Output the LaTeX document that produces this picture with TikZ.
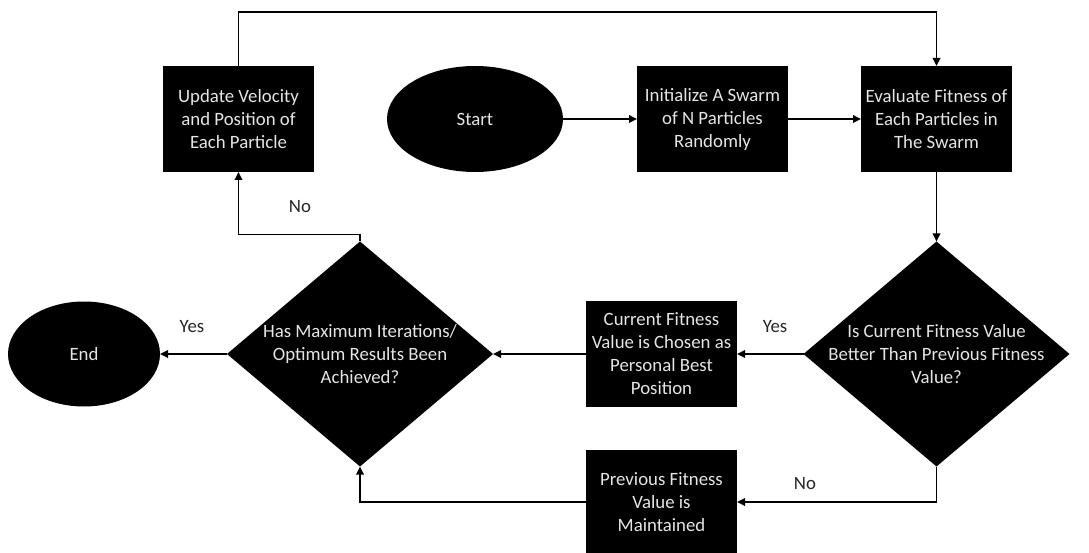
\documentclass[tikz,border=0pt]{standalone}
\usepackage{fontspec}
\setmainfont{Carlito}
\usetikzlibrary{shapes.geometric,arrows.meta}
\definecolor{boxtext}{gray}{0.9}
\newcommand{\boxfont}{\fontsize{18.8}{23}\selectfont}
\begin{document}
\begin{tikzpicture}[x=1pt,y=-1pt,
  proc/.style={rectangle, fill=black, text=boxtext, minimum width=151pt,
    minimum height=106pt, inner sep=0pt, outer sep=0pt, align=center, font=\boxfont},
  term/.style={ellipse, fill=black, text=boxtext, inner sep=0pt, outer sep=0pt, font=\boxfont},
  decision/.style={diamond, fill=black, minimum width=266pt, minimum height=225pt,
    inner sep=0pt, outer sep=0pt},
  dtext/.style={text=boxtext, align=center, font=\boxfont, inner sep=0pt},
  flow/.style={line width=1.7pt, -{Triangle[length=8pt,width=7.5pt]}},
  answer/.style={font=\boxfont, text=black!85}]
\useasboundingbox (0,0) rectangle (1089,553);

% process boxes and terminals
\node[term, minimum width=176pt, minimum height=106pt] (start) at (475,119) {Start};
\node[proc] (init) at (712.5,119) {Initialize A Swarm\\of N Particles\\Randomly};
\node[proc] (eval) at (936.5,119) {Evaluate Fitness of\\Each Particles in\\The Swarm};
\node[proc] (update) at (238.5,119) {Update Velocity\\and Position of\\Each Particle};
\node[decision, label={[dtext]center:Is Current Fitness Value\\Better Than Previous Fitness\\Value?}] (better) at (936.5,354) {};
\node[proc] (current) at (661.5,354) {Current Fitness\\Value is Chosen as\\Personal Best\\Position};
\node[proc, minimum height=104pt] (previous) at (661.5,502) {Previous Fitness\\Value is\\Maintained};
\node[decision, label={[dtext]center:Has Maximum Iterations/\\Optimum Results Been\\Achieved?}] (done) at (360,354) {};
\node[term, minimum width=152pt, minimum height=105pt] (end) at (84,354) {End};

% answers on the branches
\node[answer] (no1) at (300,207) {No};
\node[answer] (yes1) at (192,327) {Yes};
\node[answer] (yes2) at (775,327) {Yes};
\node[answer] (no2) at (805,484) {No};

% connectors
\coordinate (ceiling) at (0,12);
\draw[flow] (start) -- (init);
\draw[flow] (init) -- (eval);
\draw[flow] (eval) -- (better);
\draw[flow] (better.west) -- (current.east);
\draw[flow] (current.west) -- (done.east);
\draw[flow] (done.west) -- (end.east);
\draw[flow] (better.south) |- (previous.east);
\draw[flow] (previous.west) -| (done.south);
\draw[flow] (done.north) -- ++(0,-7) -| (update.south);
\draw[flow] (update.north) -- (update.north |- ceiling) -| (eval.north);
\end{tikzpicture}
\end{document}
